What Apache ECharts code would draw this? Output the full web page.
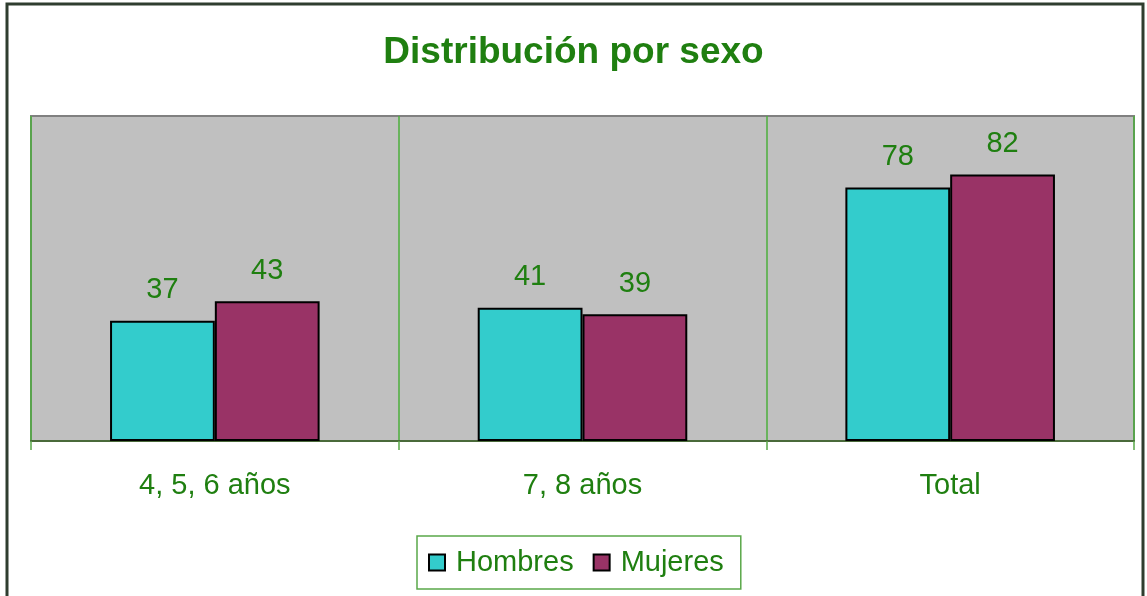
<!DOCTYPE html>
<html>
<head>
<meta charset="utf-8">
<script src="https://cdn.jsdelivr.net/npm/echarts@6/dist/echarts.min.js"></script>
<style>
  html, body { margin: 0; padding: 0; background: #fff; }
  #chart { width: 1147px; height: 596px; }
</style>
</head>
<body>
<div id="chart"></div>
<script>
// datos
const categorias = ["4, 5, 6 años", "7, 8 años", "Total"];
const hombres = [37, 41, 78];
const mujeres = [43, 39, 82];

const verde = "#1f7f10";
const fuente = "Liberation Sans, Arial";

const chart = echarts.init(document.getElementById("chart"));

const option = {
  backgroundColor: "#ffffff",
  animation: false,
  title: {
    text: "Distribución por sexo",
    left: "center",
    top: 29,
    textStyle: {
      fontFamily: fuente,
      fontSize: 37,
      fontWeight: "bold",
      color: verde,
    },
  },
  graphic: [
    {
      type: "rect",
      shape: { x: 7, y: 4, width: 1136, height: 600 },
      style: { fill: "none", stroke: "#2f3d2f", lineWidth: 3 },
      silent: true,
    },
  ],
  legend: {
    data: ["Hombres", "Mujeres"],
    bottom: 7,
    left: 417,
    orient: "horizontal",
    borderColor: "#5aa84a",
    borderWidth: 1.5,
    padding: [12, 17, 12, 11],
    itemWidth: 16,
    itemHeight: 16,
    itemGap: 19,
    icon: "rect",
    textStyle: {
      fontFamily: fuente,
      fontSize: 29,
      color: verde,
      padding: [0, 0, 0, 6],
    },
  },
  grid: {
    left: 31,
    right: 13,
    top: 116,
    bottom: 155,
    show: true,
    backgroundColor: "#c0c0c0",
    borderColor: "#808080",
    borderWidth: 2,
  },
  xAxis: {
    type: "category",
    data: categorias,
    axisLine: { lineStyle: { color: "#4a6a3a", width: 2 } },
    axisTick: { show: true, length: 9, lineStyle: { color: "#5aa84a", width: 1.5 } },
    splitLine: { show: true, lineStyle: { color: "#4caf3c", width: 1.5 } },
    axisLabel: {
      margin: 30,
      fontFamily: fuente,
      fontSize: 29,
      color: verde,
    },
  },
  yAxis: {
    type: "value",
    min: 0,
    max: 100,
    show: false,
    splitLine: { show: false },
  },
  series: [
    {
      name: "Hombres",
      type: "bar",
      data: hombres,
      barGap: "0%",
      barCategoryGap: "43%",
      itemStyle: { color: "#33cccc", borderColor: "#000", borderWidth: 2 },
      label: {
        show: true,
        position: "top",
        distance: 16,
        fontFamily: fuente,
        fontSize: 29,
        color: verde,
      },
    },
    {
      name: "Mujeres",
      type: "bar",
      data: mujeres,
      itemStyle: { color: "#993366", borderColor: "#000", borderWidth: 2 },
      label: {
        show: true,
        position: "top",
        distance: 16,
        fontFamily: fuente,
        fontSize: 29,
        color: verde,
      },
    },
  ],
};

chart.setOption(option);
</script>
</body>
</html>
